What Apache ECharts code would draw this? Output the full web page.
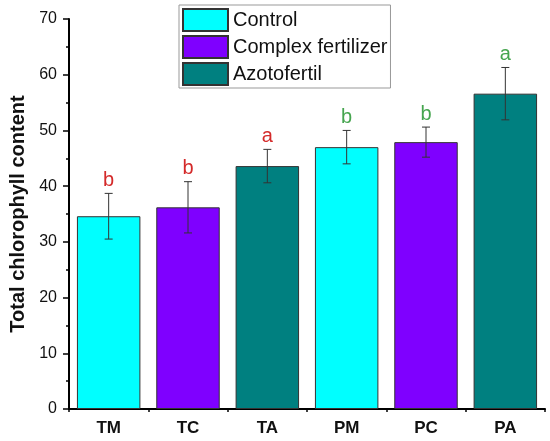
<!DOCTYPE html>
<html>
<head>
<meta charset="utf-8">
<script src="https://cdn.jsdelivr.net/npm/echarts@6/dist/echarts.min.js"></script>
<style>
  html, body { margin: 0; padding: 0; background: #fff; }
  #chart { width: 550px; height: 441px; }
</style>
</head>
<body>
<div id="chart"></div>
<script>
const categories = ['TM', 'TC', 'TA', 'PM', 'PC', 'PA'];
const groups = ['Control', 'Complex fertilizer', 'Azotofertil'];
const groupOf = [0, 1, 2, 0, 1, 2];
const means = [34.6, 36.2, 43.6, 47.0, 47.9, 56.6];
const errors = [4.1, 4.6, 3.0, 3.0, 2.7, 4.7];
const letters = ['b', 'b', 'a', 'b', 'b', 'a'];
const letterColors = ['#d42a2a', '#d42a2a', '#d42a2a', '#46a54f', '#46a54f', '#46a54f'];
const groupColors = ['#00ffff', '#7f00ff', '#008080'];
const yTicks = [0, 10, 20, 30, 40, 50, 60, 70];

const FONT = 'Liberation Sans, Arial, sans-serif';
const chart = echarts.init(document.getElementById('chart'));

const barSeries = groups.map((g, gi) => ({
  name: g,
  type: 'bar',
  stack: 'all',
  barWidth: '80%',
  itemStyle: { color: groupColors[gi], borderColor: '#333', borderWidth: 1 },
  data: means.map((v, i) => groupOf[i] === gi ? v : '-')
}));

const errData = means.map((v, i) => [i, v, v - errors[i], v + errors[i]]);

chart.setOption({
  animation: false,
  textStyle: { fontFamily: FONT },
  grid: { left: 61, right: 5, top: 19, bottom: 32, containLabel: false },
  legend: {
    orient: 'vertical',
    left: 179,
    top: 5,
    icon: 'rect',
    itemWidth: 45,
    itemHeight: 22,
    itemGap: 3,
    padding: [3, 3, 2, 3],
    borderColor: '#999',
    borderWidth: 1,
    backgroundColor: '#fff',
    textStyle: { fontSize: 20, color: '#111', fontFamily: FONT },
    data: groups
  },
  xAxis: [{
    type: 'category',
    data: categories,
    axisLine: { lineStyle: { color: '#000', width: 2 } },
    axisTick: { alignWithLabel: true, length: 6, lineStyle: { color: '#000', width: 1.5 } },
    axisLabel: { fontSize: 17, fontWeight: 'bold', color: '#111', margin: 11 }
  }, {
    type: 'value',
    position: 'bottom',
    min: 0,
    max: 6,
    interval: 1,
    axisLine: { show: false },
    axisTick: { show: true, length: 3, lineStyle: { color: '#000', width: 1.5 } },
    axisLabel: { show: false },
    splitLine: { show: false }
  }],
  yAxis: {
    type: 'value',
    min: yTicks[0],
    max: yTicks[yTicks.length - 1],
    interval: 10,
    name: 'Total chlorophyll content',
    nameLocation: 'middle',
    nameGap: 41,
    nameTextStyle: { fontSize: 20, fontWeight: 'bold', color: '#111' },
    axisLine: { show: true, lineStyle: { color: '#000', width: 2 } },
    axisTick: { show: true, length: 6, lineStyle: { color: '#000', width: 1.5 } },
    minorTick: { show: true, splitNumber: 2, length: 3, lineStyle: { color: '#000', width: 1.5 } },
    axisLabel: { fontSize: 16, color: '#111', margin: 12 },
    splitLine: { show: false }
  },
  series: [
    ...barSeries,
    {
      type: 'custom',
      name: 'err',
      xAxisIndex: 0,
      z: 10,
      data: errData,
      renderItem(params, api) {
        const i = api.value(0);
        const lo = api.coord([i, api.value(2)]);
        const hi = api.coord([i, api.value(3)]);
        const x = hi[0];
        const cap = 4;
        const style = { stroke: '#333', lineWidth: 1 };
        return {
          type: 'group',
          children: [
            { type: 'line', shape: { x1: x, y1: lo[1], x2: x, y2: hi[1] }, style },
            { type: 'line', shape: { x1: x - cap, y1: lo[1], x2: x + cap, y2: lo[1] }, style },
            { type: 'line', shape: { x1: x - cap, y1: hi[1], x2: x + cap, y2: hi[1] }, style },
            {
              type: 'text',
              style: {
                x: x,
                y: hi[1] - 3,
                text: letters[i],
                fill: letterColors[i],
                font: '20px ' + FONT,
                align: 'center',
                verticalAlign: 'bottom'
              }
            }
          ]
        };
      }
    }
  ]
});
</script>
</body>
</html>
